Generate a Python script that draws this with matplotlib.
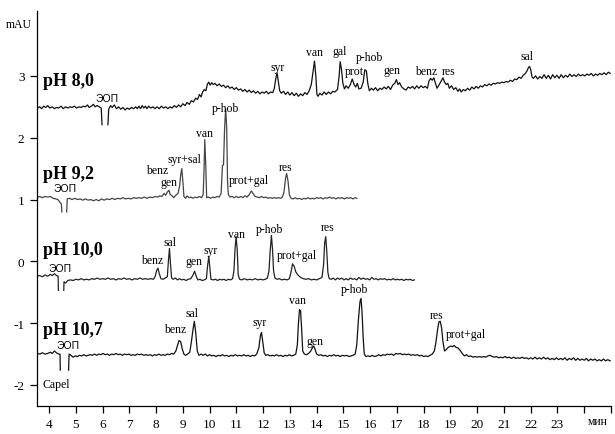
import numpy as np
import matplotlib
matplotlib.use("Agg")
import matplotlib.pyplot as plt

plt.rcParams["axes.unicode_minus"] = False

nan = np.nan

# pH 8,0 trace (time, mAU)
t_80 = [3.55, 3.65, 3.72, 3.80, 3.88, 3.95, 4.03, 4.12, 4.20, 4.28, 4.36, 4.45, 4.53, 4.62, 4.70, 4.78, 4.86, 4.95,
        5.03, 5.12, 5.20, 5.28, 5.36, 5.44, 5.50, 5.58, 5.66, 5.72, 5.80, 5.88, 5.95, 5.98, nan, 6.20, 6.23, 6.30,
        6.36, 6.44, 6.52, 6.60, 6.68, 6.76, 6.84, 6.92, 7.00, 7.08, 7.16, 7.24, 7.30, 7.36, 7.42, 7.48, 7.54, 7.60,
        7.66, 7.72, 7.80, 7.88, 7.96, 8.04, 8.12, 8.20, 8.28, 8.36, 8.44, 8.52, 8.60, 8.68, 8.76, 8.84, 8.92, 9.00,
        9.08, 9.16, 9.24, 9.32, 9.40, 9.48, 9.55, 9.62, 9.68, 9.74, 9.80, 9.86, 9.92, 9.97, 10.02, 10.08, 10.14,
        10.20, 10.28, 10.36, 10.44, 10.52, 10.60, 10.68, 10.76, 10.84, 10.92, 11.00, 11.08, 11.16, 11.24, 11.32,
        11.40, 11.48, 11.56, 11.64, 11.72, 11.80, 11.88, 11.96, 12.04, 12.12, 12.20, 12.28, 12.36, 12.42, 12.47,
        12.52, 12.57, 12.62, 12.68, 12.76, 12.84, 12.92, 13.00, 13.08, 13.16, 13.24, 13.32, 13.40, 13.48, 13.56,
        13.64, 13.72, 13.80, 13.86, 13.92, 13.97, 14.01, 14.05, 14.12, 14.20, 14.28, 14.36, 14.44, 14.52, 14.60,
        14.68, 14.78, 14.84, 14.88, 14.93, 14.98, 15.04, 15.10, 15.18, 15.26, 15.33, 15.40, 15.46, 15.52, 15.58,
        15.66, 15.74, 15.80, 15.86, 15.91, 15.97, 16.05, 16.12, 16.20, 16.28, 16.36, 16.44, 16.52, 16.60, 16.68,
        16.76, 16.84, 16.92, 16.98, 17.04, 17.10, 17.18, 17.26, 17.34, 17.42, 17.50, 17.58, 17.66, 17.74, 17.82,
        17.90, 17.98, 18.06, 18.14, 18.20, 18.26, 18.32, 18.38, 18.44, 18.50, 18.58, 18.66, 18.72, 18.78, 18.84,
        18.90, 18.96, 19.04, 19.12, 19.20, 19.28, 19.34, 19.40, 19.48, 19.56, 19.64, 19.72, 19.80, 19.88, 19.96,
        20.04, 20.12, 20.20, 20.28, 20.36, 20.44, 20.52, 20.60, 20.68, 20.76, 20.84, 20.92, 21.00, 21.08, 21.16,
        21.24, 21.32, 21.40, 21.48, 21.56, 21.64, 21.72, 21.80, 21.86, 21.92, 21.96, 22.00, 22.05, 22.10, 22.18,
        22.26, 22.34, 22.42, 22.50, 22.58, 22.66, 22.74, 22.82, 22.90, 22.98, 23.06, 23.14, 23.22, 23.30, 23.38,
        23.46, 23.54, 23.62, 23.70, 23.78, 23.86, 23.94, 24.02, 24.10, 24.18, 24.26, 24.34, 24.42, 24.50, 24.58,
        24.66, 24.74, 24.82, 24.90, 24.97]
v_80 = [2.48, 2.50, 2.47, 2.51, 2.49, 2.52, 2.48, 2.50, 2.47, 2.49, 2.48, 2.51, 2.47, 2.50, 2.48, 2.50, 2.49, 2.51,
        2.48, 2.50, 2.49, 2.51, 2.50, 2.53, 2.49, 2.51, 2.54, 2.50, 2.52, 2.50, 2.48, 2.21, nan, 2.21, 2.46, 2.52,
        2.49, 2.53, 2.47, 2.50, 2.46, 2.49, 2.45, 2.48, 2.46, 2.49, 2.47, 2.50, 2.47, 2.51, 2.47, 2.52, 2.48, 2.51,
        2.47, 2.51, 2.48, 2.50, 2.47, 2.50, 2.47, 2.51, 2.48, 2.50, 2.47, 2.50, 2.48, 2.52, 2.49, 2.53, 2.50, 2.55,
        2.52, 2.57, 2.54, 2.60, 2.58, 2.64, 2.62, 2.70, 2.66, 2.74, 2.78, 2.76, 2.87, 2.90, 2.85, 2.89, 2.86,
        2.88, 2.84, 2.87, 2.83, 2.85, 2.81, 2.84, 2.80, 2.82, 2.78, 2.81, 2.77, 2.79, 2.75, 2.78,
        2.74, 2.77, 2.73, 2.76, 2.72, 2.75, 2.71, 2.74, 2.72, 2.75, 2.71, 2.74, 2.73, 2.80, 2.95,
        3.05, 2.90, 2.76, 2.72, 2.75, 2.70, 2.74, 2.69, 2.73, 2.68, 2.72, 2.67, 2.71, 2.68, 2.73,
        2.70, 2.76, 2.86, 3.05, 3.24, 3.00, 2.70, 2.67, 2.72, 2.69, 2.74, 2.70, 2.74, 2.71, 2.75,
        2.74, 2.78, 3.00, 3.23, 3.10, 2.88, 2.79, 2.84, 2.80, 2.86, 2.95, 2.86, 2.82, 2.88, 2.79,
        2.80, 2.90, 3.10, 3.08, 2.88, 2.76, 2.80, 2.77, 2.81, 2.76, 2.80, 2.78, 2.82, 2.79, 2.83,
        2.78, 2.85, 2.88, 2.94, 2.86, 2.89, 2.82, 2.79, 2.77, 2.82, 2.80, 2.83, 2.79, 2.84, 2.80,
        2.84, 2.81, 2.83, 2.80, 2.92, 2.96, 2.93, 2.97, 2.88, 2.80, 2.86, 2.92, 2.97, 2.90, 2.86,
        2.88, 2.80, 2.84, 2.78, 2.81, 2.75, 2.79, 2.74, 2.78, 2.76, 2.80, 2.77, 2.82, 2.79, 2.83,
        2.80, 2.84, 2.82, 2.86, 2.84, 2.87, 2.85, 2.88, 2.87, 2.89, 2.88, 2.90, 2.89, 2.91, 2.90,
        2.93, 2.91, 2.95, 2.94, 2.98, 2.96, 3.01, 3.04, 3.08, 3.14, 3.15, 3.10, 2.98, 2.96, 3.00,
        2.95, 2.99, 2.96, 3.02, 2.96, 3.01, 2.95, 3.02, 2.97, 3.01, 2.96, 3.02, 2.97, 3.01, 2.98,
        3.03, 2.99, 3.02, 2.99, 3.03, 3.00, 3.02, 3.00, 3.03, 3.01, 3.04, 3.00, 3.03, 3.01, 3.04,
        3.02, 3.05, 3.02, 3.06, 3.04]

# pH 9,2 trace
t_92 = [3.55, 3.65, 3.75, 3.85, 3.95, 4.05, 4.15, 4.25, 4.33, 4.40, 4.46, 4.48, nan, 4.66, 4.68, 4.76, 4.86, 4.96,
        5.06, 5.16, 5.26, 5.36, 5.46, 5.56, 5.66, 5.76, 5.86, 5.96, 6.06, 6.16, 6.26, 6.36, 6.46, 6.56, 6.66, 6.76,
        6.86, 6.96, 7.06, 7.16, 7.26, 7.36, 7.46, 7.56, 7.66, 7.76, 7.86, 7.96, 8.06, 8.14, 8.22, 8.30, 8.36, 8.42,
        8.48, 8.53, 8.60, 8.66, 8.74, 8.82, 8.88, 8.92, 8.96, 9.00, 9.04, 9.10, 9.16, 9.22, 9.30, 9.38, 9.46, 9.54,
        9.62, 9.70, 9.76, 9.79, 9.82, 9.86, 9.89, 9.96, 10.04, 10.12, 10.20, 10.28, 10.36, 10.43, 10.48, 10.52,
        10.56, 10.60, 10.64, 10.67, 10.70, 10.76, 10.84, 10.92, 11.00, 11.08, 11.16, 11.24, 11.32, 11.40, 11.48,
        11.56, 11.62, 11.70, 11.78, 11.86, 11.94, 12.02, 12.10, 12.18, 12.26, 12.34, 12.42, 12.50, 12.58, 12.66,
        12.72, 12.78, 12.84, 12.88, 12.93, 12.98, 13.04, 13.12, 13.20, 13.28, 13.36, 13.44, 13.52, 13.60, 13.68,
        13.76, 13.84, 13.92, 14.00, 14.08, 14.16, 14.24, 14.32, 14.40, 14.48, 14.56, 14.64, 14.72, 14.80, 14.88,
        14.96, 15.04, 15.12, 15.20, 15.28, 15.36, 15.44, 15.50]
v_92 = [1.03, 1.05, 1.03, 1.05, 1.04, 1.05, 1.02, 1.01, 1.00, 0.96, 0.93, 0.80, nan, 0.80, 1.01, 1.02, 1.00, 1.02,
        1.00, 1.01, 0.99, 1.01, 0.99, 1.00, 0.98, 1.00, 0.98, 1.01, 0.99, 1.01, 1.00, 1.02, 1.00, 1.02, 1.01, 1.03,
        1.01, 1.02, 1.01, 1.03, 1.02, 1.03, 1.02, 1.04, 1.02, 1.04, 1.03, 1.05, 1.04, 1.06, 1.05, 1.10, 1.07, 1.12,
        1.15, 1.08, 1.06, 1.03, 1.07, 1.10, 1.22, 1.40, 1.50, 1.30, 1.05, 1.02, 1.06, 1.03, 1.04, 1.02, 1.04, 1.03,
        1.05, 1.03, 1.08, 1.45, 1.97, 1.50, 1.03, 1.04, 1.02, 1.04, 1.03, 1.05, 1.04, 1.10, 1.55, 1.56,
        2.15, 2.47, 2.15, 1.30, 1.08, 1.04, 1.05, 1.03, 1.05, 1.03, 1.05, 1.03, 1.06, 1.04, 1.08,
        1.14, 1.10, 1.05, 1.04, 1.03, 1.05, 1.03, 1.04, 1.02, 1.03, 1.02, 1.03, 1.02, 1.03, 1.02,
        1.04, 1.12, 1.35, 1.42, 1.30, 1.08, 1.02, 1.01, 1.03, 1.01, 1.02, 1.00, 1.02, 1.01, 1.03,
        1.01, 1.02, 1.01, 1.03, 1.02, 1.03, 1.01, 1.03, 1.02, 1.04, 1.02, 1.03, 1.01, 1.03, 1.02,
        1.03, 1.01, 1.03, 1.02, 1.03, 1.01, 1.03, 1.02]

# pH 10,0 trace
t_100 = [3.55, 3.65, 3.75, 3.85, 3.95, 4.05, 4.12, 4.20, 4.28, 4.34, 4.35, nan, 4.55, 4.56, 4.62, 4.70, 4.80, 4.90,
         5.00, 5.10, 5.20, 5.30, 5.40, 5.50, 5.60, 5.70, 5.80, 5.90, 6.00, 6.10, 6.20, 6.30, 6.40, 6.50, 6.60, 6.70,
         6.80, 6.90, 7.00, 7.10, 7.20, 7.30, 7.40, 7.50, 7.60, 7.70, 7.80, 7.90, 7.96, 8.02, 8.07, 8.12, 8.18, 8.26,
         8.34, 8.42, 8.46, 8.50, 8.54, 8.58, 8.64, 8.72, 8.80, 8.88, 8.96, 9.04, 9.12, 9.20, 9.30, 9.38, 9.44, 9.50,
         9.56, 9.64, 9.72, 9.80, 9.88, 9.93, 9.97, 10.01, 10.05, 10.14, 10.22, 10.30, 10.38, 10.46, 10.54, 10.62,
         10.70, 10.78, 10.86, 10.91, 10.95, 10.99, 11.03, 11.07, 11.12, 11.20, 11.30, 11.40, 11.50, 11.60, 11.70,
         11.80, 11.90, 12.00, 12.08, 12.16, 12.22, 12.26, 12.31, 12.35, 12.39, 12.44, 12.52, 12.60, 12.70, 12.80,
         12.90, 12.98, 13.04, 13.10, 13.16, 13.22, 13.30, 13.40, 13.50, 13.60, 13.70, 13.80, 13.90, 14.00, 14.10,
         14.20, 14.26, 14.30, 14.34, 14.38, 14.42, 14.47, 14.55, 14.62, 14.70, 14.78, 14.86, 14.94, 15.02, 15.10,
         15.18, 15.26, 15.34, 15.42, 15.50, 15.58, 15.66, 15.74, 15.82, 15.90, 15.98, 16.06, 16.14, 16.22, 16.30,
         16.38, 16.46, 16.54, 16.62, 16.70, 16.78, 16.86, 16.94, 17.02, 17.10, 17.18, 17.26, 17.34, 17.42, 17.50,
         17.58, 17.65]
v_100 = [-0.24, -0.23, -0.25, -0.22, -0.24, -0.21, -0.23, -0.20, -0.23, -0.24, -0.47, nan, -0.47, -0.33, -0.35,
         -0.31, -0.30, -0.31, -0.29, -0.30, -0.28, -0.30, -0.29, -0.30, -0.28, -0.29, -0.27, -0.29, -0.28, -0.29,
         -0.27, -0.29, -0.28, -0.30, -0.28, -0.29, -0.27, -0.29, -0.28, -0.30, -0.28, -0.29, -0.27, -0.29, -0.28,
         -0.29, -0.28, -0.29, -0.25, -0.15, -0.11, -0.20, -0.28, -0.29, -0.27, -0.25, 0.00, 0.21, -0.05, -0.27,
         -0.29, -0.27, -0.30, -0.28, -0.30, -0.29, -0.31, -0.29, -0.28, -0.22, -0.16, -0.24, -0.30, -0.29, -0.31,
         -0.30, -0.28, -0.05, 0.08, -0.10, -0.29, -0.30, -0.29, -0.31, -0.29, -0.30, -0.29, -0.31, -0.29, -0.30,
         -0.28, -0.15, 0.20, 0.40, 0.20, -0.22, -0.29, -0.30, -0.28, -0.30, -0.29, -0.30, -0.28, -0.30, -0.29,
         -0.30, -0.29, -0.27, -0.15, 0.15, 0.42, 0.20, -0.15, -0.27, -0.29, -0.28, -0.30, -0.29, -0.30, -0.28,
         -0.18, -0.04, -0.08, -0.17, -0.22, -0.26, -0.28, -0.29, -0.28, -0.30, -0.29, -0.30, -0.28, -0.26, -0.05,
         0.30, 0.40, 0.15, -0.18, -0.28, -0.29, -0.27, -0.30, -0.27, -0.29, -0.27, -0.30, -0.28, -0.30, -0.27,
         -0.29, -0.28, -0.30, -0.26, -0.29, -0.27, -0.29, -0.28, -0.30, -0.26, -0.29, -0.28, -0.30, -0.28, -0.29,
         -0.28, -0.30, -0.29, -0.30, -0.28, -0.30, -0.29, -0.30, -0.29, -0.31, -0.29, -0.30, -0.29, -0.31, -0.30]

# pH 10,7 trace
t_107 = [3.55, 3.65, 3.75, 3.85, 3.95, 4.05, 4.12, 4.20, 4.28, 4.36, 4.41, 4.42, nan, 4.73, 4.75, 4.82, 4.90, 4.98,
         5.06, 5.14, 5.22, 5.30, 5.38, 5.46, 5.54, 5.62, 5.70, 5.78, 5.86, 5.94, 6.02, 6.10, 6.18, 6.26, 6.34, 6.42,
         6.50, 6.58, 6.66, 6.74, 6.82, 6.90, 6.98, 7.06, 7.14, 7.22, 7.30, 7.38, 7.46, 7.54, 7.62, 7.70, 7.78, 7.86,
         7.94, 8.02, 8.10, 8.18, 8.26, 8.34, 8.42, 8.50, 8.58, 8.66, 8.74, 8.80, 8.86, 8.92, 8.98, 9.04, 9.10, 9.18,
         9.26, 9.32, 9.38, 9.43, 9.48, 9.54, 9.60, 9.68, 9.76, 9.84, 9.92, 10.00, 10.08, 10.16, 10.24, 10.32, 10.40,
         10.48, 10.56, 10.64, 10.72, 10.80, 10.88, 10.96, 11.04, 11.12, 11.20, 11.28, 11.36, 11.44, 11.52, 11.60,
         11.68, 11.76, 11.84, 11.90, 11.94, 11.98, 12.04, 12.10, 12.18, 12.26, 12.34, 12.42, 12.50, 12.58, 12.66,
         12.74, 12.82, 12.90, 12.98, 13.06, 13.14, 13.22, 13.28, 13.32, 13.36, 13.40, 13.44, 13.48, 13.54, 13.62,
         13.70, 13.78, 13.84, 13.89, 13.94, 14.00, 14.08, 14.16, 14.24, 14.32, 14.40, 14.48, 14.56, 14.64, 14.72,
         14.80, 14.88, 14.96, 15.04, 15.12, 15.20, 15.28, 15.36, 15.44, 15.50, 15.56, 15.62, 15.66, 15.70, 15.74,
         15.78, 15.84, 15.92, 16.00, 16.08, 16.16, 16.24, 16.32, 16.40, 16.48, 16.56, 16.64, 16.72, 16.80, 16.88,
         16.96, 17.04, 17.12, 17.20, 17.28, 17.36, 17.44, 17.52, 17.60, 17.68, 17.76, 17.84, 17.92, 18.00, 18.08,
         18.16, 18.24, 18.32, 18.40, 18.46, 18.52, 18.57, 18.62, 18.67, 18.72, 18.78, 18.84, 18.90, 18.96, 19.02,
         19.08, 19.14, 19.20, 19.28, 19.36, 19.44, 19.52, 19.60, 19.68, 19.76, 19.84, 19.92, 20.00, 20.08, 20.16,
         20.24, 20.32, 20.40, 20.48, 20.56, 20.64, 20.72, 20.80, 20.88, 20.96, 21.04, 21.12, 21.20, 21.28, 21.36,
         21.44, 21.52, 21.60, 21.68, 21.76, 21.84, 21.92, 22.00, 22.08, 22.16, 22.24, 22.32, 22.40, 22.48, 22.56,
         22.64, 22.72, 22.80, 22.88, 22.96, 23.04, 23.12, 23.20, 23.28, 23.36, 23.44, 23.52, 23.60, 23.68, 23.76,
         23.84, 23.92, 24.00, 24.08, 24.16, 24.24, 24.32, 24.40, 24.48, 24.56, 24.64, 24.72, 24.80, 24.88, 24.97]
v_107 = [-1.49, -1.50, -1.48, -1.50, -1.49, -1.47, -1.49, -1.45, -1.48, -1.50, -1.50, -1.76, nan, -1.76, -1.50,
         -1.52, -1.55, -1.53, -1.54, -1.52, -1.53, -1.51, -1.53, -1.52, -1.51, -1.52, -1.50, -1.52, -1.50, -1.51,
         -1.49, -1.51, -1.50, -1.52, -1.50, -1.51, -1.49, -1.51, -1.50, -1.52, -1.50, -1.51, -1.50, -1.52, -1.51,
         -1.52, -1.50, -1.51, -1.50, -1.52, -1.51, -1.52, -1.51, -1.53, -1.51, -1.52, -1.50, -1.52, -1.51, -1.52,
         -1.50, -1.51, -1.49, -1.50, -1.45, -1.36, -1.28, -1.30, -1.42, -1.50, -1.52, -1.50, -1.47, -1.30, -1.10,
         -0.97, -1.15, -1.45, -1.52, -1.50, -1.52, -1.50, -1.53, -1.51, -1.53, -1.52, -1.54, -1.52, -1.53, -1.51,
         -1.53, -1.52, -1.54, -1.52, -1.53, -1.51, -1.53, -1.52, -1.53, -1.51, -1.53, -1.52, -1.54, -1.52, -1.53,
         -1.50, -1.40, -1.20, -1.15, -1.28, -1.48, -1.52, -1.51, -1.53, -1.52, -1.53, -1.51, -1.53, -1.52, -1.54,
         -1.52, -1.53, -1.51, -1.53, -1.52, -1.50, -1.35, -1.00, -0.78, -0.80, -1.10, -1.45, -1.50, -1.51, -1.49,
         -1.45, -1.40, -1.37, -1.42, -1.50, -1.52, -1.51, -1.53, -1.52, -1.54, -1.52, -1.53, -1.51, -1.53, -1.52,
         -1.54, -1.52, -1.53, -1.52, -1.54, -1.53, -1.52, -1.50, -1.35, -0.95, -0.65, -0.60, -0.85, -1.25, -1.50,
         -1.54, -1.53, -1.54, -1.52, -1.54, -1.53, -1.51, -1.53, -1.51, -1.52, -1.50, -1.51, -1.50, -1.52, -1.49,
         -1.50, -1.49, -1.51, -1.50, -1.51, -1.50, -1.52, -1.51, -1.52, -1.51, -1.53, -1.52, -1.54, -1.53, -1.54,
         -1.52, -1.50, -1.45, -1.30, -1.10, -0.98, -0.97, -1.08, -1.30, -1.45, -1.43, -1.40, -1.38, -1.37, -1.38,
         -1.36, -1.39, -1.40, -1.44, -1.49, -1.53, -1.51, -1.54, -1.53, -1.55, -1.54, -1.55, -1.54, -1.55, -1.54,
         -1.55, -1.53, -1.52, -1.54, -1.55, -1.54, -1.56, -1.55, -1.56, -1.54, -1.56, -1.55, -1.57, -1.55, -1.57,
         -1.56, -1.57, -1.55, -1.57, -1.56, -1.58, -1.56, -1.58, -1.55, -1.58, -1.56, -1.58, -1.55, -1.58, -1.56,
         -1.59, -1.57, -1.59, -1.56, -1.59, -1.57, -1.59, -1.56, -1.60, -1.57, -1.59, -1.56, -1.60, -1.57, -1.60,
         -1.58, -1.60, -1.57, -1.61, -1.58, -1.60, -1.58, -1.61, -1.59, -1.61, -1.58, -1.61, -1.59, -1.61]

# peak labels: name, time, level
lab_80 = ["syr", "van", "gal", "prot", "p-hob", "gen", "benz", "res", "sal"]
lt_80 = [12.55, 13.93, 14.86, 15.42, 15.98, 16.8, 18.1, 18.93, 21.87]
lv_80 = [3.15, 3.39, 3.40, 3.08, 3.30, 3.10, 3.08, 3.08, 3.32]

lab_92 = ["benz", "gen", "syr+sal", "van", "p-hob", "prot+gal", "res"]
lt_92 = [8.03, 8.5, 9.07, 9.82, 10.6, 11.45, 12.84]
lv_92 = [1.47, 1.29, 1.66, 2.08, 2.48, 1.31, 1.53]

lab_100 = ["benz", "sal", "gen", "syr", "van", "p-hob", "prot+gal", "res"]
lt_100 = [7.84, 8.51, 9.41, 10.04, 11.01, 12.25, 13.25, 14.4]
lv_100 = [0.02, 0.32, 0.0, 0.19, 0.45, 0.53, 0.11, 0.55]

lab_107 = ["benz", "sal", "syr", "van", "gen", "p-hob", "res", "prot+gal"]
lt_107 = [8.7, 9.34, 11.87, 13.3, 13.93, 15.42, 18.5, 19.56]
lv_107 = [-1.10, -0.84, -0.98, -0.63, -1.29, -0.45, -0.87, -1.18]

# run titles and EOF marker positions
ph_names = ["pH 8,0", "pH 9,2", "pH 10,0", "pH 10,7"]
ph_levels = [2.92, 1.42, 0.19, -1.10]
eof_t = [6.16, 4.6, 4.41, 4.7]
eof_v = [2.64, 1.18, -0.11, -1.35]

x_ticks = list(range(4, 26))
x_labels = [str(i) for i in range(4, 24)] + ["", ""]
y_ticks = [-2, -1, 0, 1, 2, 3]

serif = "Liberation Serif"

fig = plt.figure(figsize=(6.15, 4.35), dpi=100)
ax = fig.add_axes([37 / 615, 28 / 435, 574 / 615, 395 / 435])

for t, v, c in [(t_80, v_80, "#111111"), (t_92, v_92, "#444444"), (t_100, v_100, "#222222"), (t_107, v_107, "#111111")]:
    ax.plot(t, v, color=c, lw=0.9)

for labs, lt, lv in [(lab_80, lt_80, lv_80), (lab_92, lt_92, lv_92), (lab_100, lt_100, lv_100), (lab_107, lt_107, lv_107)]:
    for s, x, y in zip(labs, lt, lv):
        ax.text(x, y, s, family=serif, fontsize=8.5, ha="center", va="center")

for s, y in zip(ph_names, ph_levels):
    ax.text(3.78, y, s, family=serif, fontsize=13, fontweight="bold", ha="left", va="center")

for x, y in zip(eof_t, eof_v):
    ax.text(x, y, "ЭОП", family="Liberation Sans", fontsize=7.5, ha="center", va="center")

ax.text(3.74, -1.98, "Capel", family=serif, fontsize=8.5, ha="left", va="center")

ax.set_xlim(3.55, 25.0)
ax.set_ylim(-2.34, 4.05)
ax.spines["top"].set_visible(False)
ax.spines["right"].set_visible(False)
ax.spines["left"].set_linewidth(0.9)
ax.spines["bottom"].set_linewidth(0.9)
ax.set_xticks(x_ticks, labels=x_labels)
ax.set_yticks(y_ticks)
ax.tick_params(length=5, width=0.9, labelsize=9.5, direction="out", pad=4)
for lbl in ax.get_xticklabels() + ax.get_yticklabels():
    lbl.set_family(serif)

ax.text(24.5, -2.49, "мин", family=serif, fontsize=8.5, ha="center", va="top")
fig.text(19 / 615, 1 - 25 / 435, "mAU", family=serif, fontsize=8.5, ha="center", va="center")

fig.savefig("out.png", dpi=100)
